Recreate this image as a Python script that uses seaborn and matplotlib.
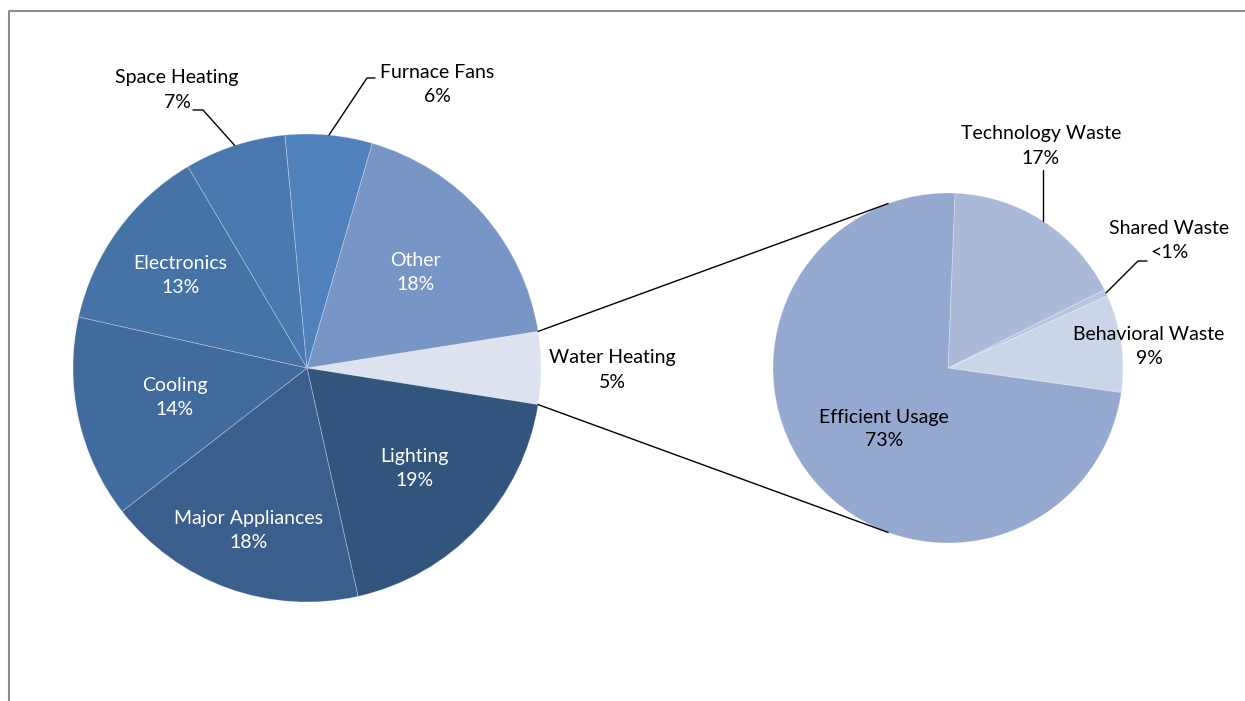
import numpy as np
import matplotlib.pyplot as plt
import seaborn as sns

sns.set_style("white")
plt.rcParams['font.family'] = ['Lato', 'DejaVu Sans']

# main pie (clockwise from the split slice)
main_labels = ["Water Heating", "Lighting", "Major Appliances", "Cooling",
               "Electronics", "Space Heating", "Furnace Fans", "Other"]
main_values = [5, 19, 18, 14, 13, 7, 6, 18]
main_pct = ["5%", "19%", "18%", "14%", "13%", "7%", "6%", "18%"]
main_colors = ["#DCE3EF", "#32557D", "#3B5F8D", "#416B9D",
               "#4673A6", "#4A79B0", "#4F81BD", "#7796C6"]

# breakdown of water heating
sub_labels = ["Technology Waste", "Shared Waste", "Behavioral Waste", "Efficient Usage"]
sub_values = [17, 0.6, 9, 73.4]
sub_pct = ["17%", "<1%", "9%", "73%"]
sub_colors = ["#AAB9D7", "#B8C5DF", "#CBD5E8", "#95A9D0"]

H = 701
fig = plt.figure(figsize=(12.45, 7.01), dpi=100)
ax = fig.add_axes([0, 0, 1, 1])

c1, r1 = (307, H - 368), 234
c2, r2 = (948, H - 368), 175

edge = dict(edgecolor=(1, 1, 1, 0.3), linewidth=0.6)
w1, _ = ax.pie(main_values, colors=main_colors, startangle=9, counterclock=False,
               center=c1, radius=r1, frame=True, wedgeprops=edge)
w2, _ = ax.pie(sub_values, colors=sub_colors, startangle=87.7, counterclock=False,
               center=c2, radius=r2, frame=True, wedgeprops=edge)
ax.set_xlim(0, 1245)
ax.set_ylim(0, H)
ax.set_aspect('equal')
ax.axis('off')

fs = 14
ls = 1.5


def pt(c, r, ang):
    a = np.deg2rad(ang)
    return c[0] + r * np.cos(a), c[1] + r * np.sin(a)


def mid(w):
    return (w.theta1 + w.theta2) / 2


def label(x, y, txt, color='black'):
    ax.text(x, y, txt, ha='center', va='center', color=color,
            fontsize=fs, linespacing=ls)


# inner labels of the main pie
inner = {"Lighting": 0.63, "Major Appliances": 0.74, "Cooling": 0.58,
         "Electronics": 0.67, "Other": 0.62}
# outer labels with leaders: (text position, elbow, end)
outer = {
    "Space Heating": ((177, 90), (203, 110), (193, 110)),
    "Furnace Fans": ((437, 85), (367, 78), (375, 78)),
}
for w, lab, p in zip(w1, main_labels, main_pct):
    txt = f"{lab}\n{p}"
    if lab in inner:
        x, y = pt(c1, r1 * inner[lab], mid(w))
        label(x, y, txt, 'white')
    elif lab in outer:
        (tx, ty), (ex, ey), (fx, fy) = outer[lab]
        x0, y0 = pt(c1, r1, mid(w))
        ax.plot([x0, ex, fx], [y0, H - ey, H - fy], color='black', lw=1)
        label(tx, H - ty, txt)
    else:
        label(612, H - 370, txt)

# labels of the sub pie
for w, lab, p in zip(w2, sub_labels, sub_pct):
    txt = f"{lab}\n{p}"
    if lab == "Efficient Usage":
        label(884, H - 429, txt)
    elif lab == "Behavioral Waste":
        label(1149, H - 346, txt)
    elif lab == "Technology Waste":
        x0, y0 = pt(c2, r2, mid(w))
        ax.plot([x0, x0], [y0, H - 170], color='black', lw=1)
        label(1041, H - 146, txt)
    elif lab == "Shared Waste":
        x0, y0 = pt(c2, r2, mid(w))
        ax.plot([x0, 1138, 1147], [y0, H - 261, H - 261], color='black', lw=1)
        label(1169, H - 240, txt)

# connector lines between the pies
wh = w1[0]
for a1, a2 in [(wh.theta2, 110), (wh.theta1, -110)]:
    x0, y0 = pt(c1, r1, a1)
    x1, y1 = pt(c2, r2, a2)
    ax.plot([x0, x1], [y0, y1], color='black', lw=1)

# chart frame
ax.plot([9, 9, 1245], [0, H - 11, H - 11], color='#8C8C8C', lw=1.5)

fig.savefig("out.png", dpi=100)
